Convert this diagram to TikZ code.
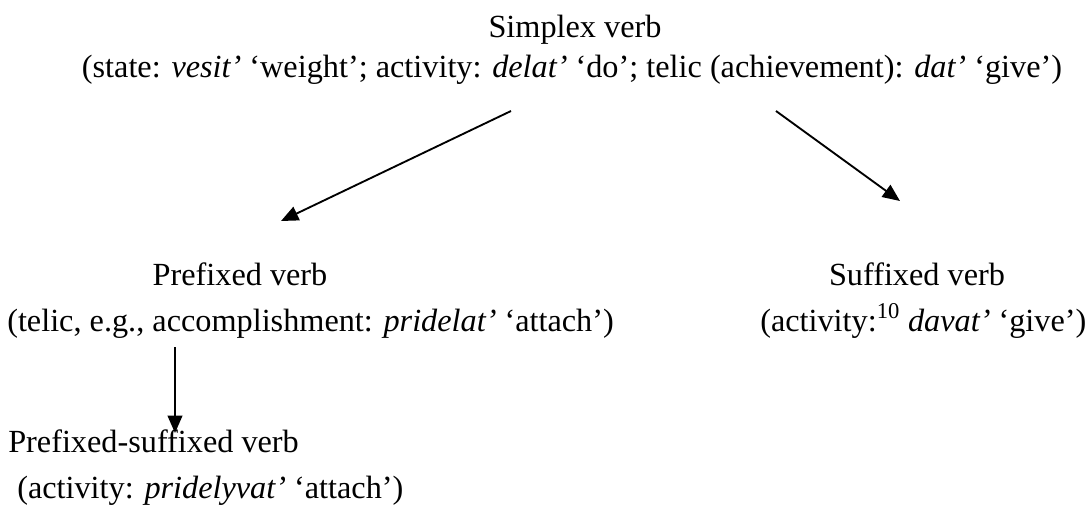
\documentclass[tikz,border=0pt]{standalone}
\usepackage{fontspec}
\setmainfont{Liberation Serif}
\usetikzlibrary{arrows.meta}

\tikzset{
  lbl/.style={inner sep=0.75pt,font=\fontsize{24.2}{29}\selectfont},
  arr/.style={-{Triangle[length=13pt,width=11pt]},line width=1.4pt}
}

\begin{document}
\begin{tikzpicture}[x=0.75pt,y=0.75pt,yscale=-1,xscale=1]
    \useasboundingbox (0,0) rectangle (1085,507);

    % Text Node
    \node (simplex) at (575,37) [anchor=base, lbl] {Simplex verb};
    % Text Node
    \node (simplexex) at (572,77) [anchor=base, lbl] {(state: \textit{vesit'} `weight'; activity: \textit{delat'} `do'; telic (achievement): \textit{dat'} `give')};
    % Text Node
    \node (prefixed) at (240,285) [anchor=base, lbl] {Prefixed verb};
    % Text Node
    \node (prefixedex) at (6,331) [anchor=base west, lbl] {(telic, e.g., accomplishment: \textit{pridelat'} `attach')};
    % Text Node
    \node (suffixed) at (917,285) [anchor=base, lbl] {Suffixed verb};
    % Text Node
    \node (suffixedex) at (759,331) [anchor=base west, lbl] {(activity:\textsuperscript{10} \textit{davat'} `give')};
    % Text Node
    \node (presuf) at (7,452) [anchor=base west, lbl] {Prefixed-suffixed verb};
    % Text Node
    \node (presufex) at (16,498) [anchor=base west, lbl] {(activity: \textit{pridelyvat'} `attach')};

    % Arrow ends
    \coordinate (s1) at (511,111);
    \coordinate (p1) at (281,221);
    \coordinate (s2) at (776,111);
    \coordinate (p2) at (900,201);
    \coordinate (s3) at (175,347);
    \coordinate (p3) at (175,433);

    %Straight Lines
    \draw [arr] (s1) -- (p1);
    %Straight Lines
    \draw [arr] (s2) -- (p2);
    %Straight Lines
    \draw [arr] (s3) -- (p3);

\end{tikzpicture}
\end{document}
